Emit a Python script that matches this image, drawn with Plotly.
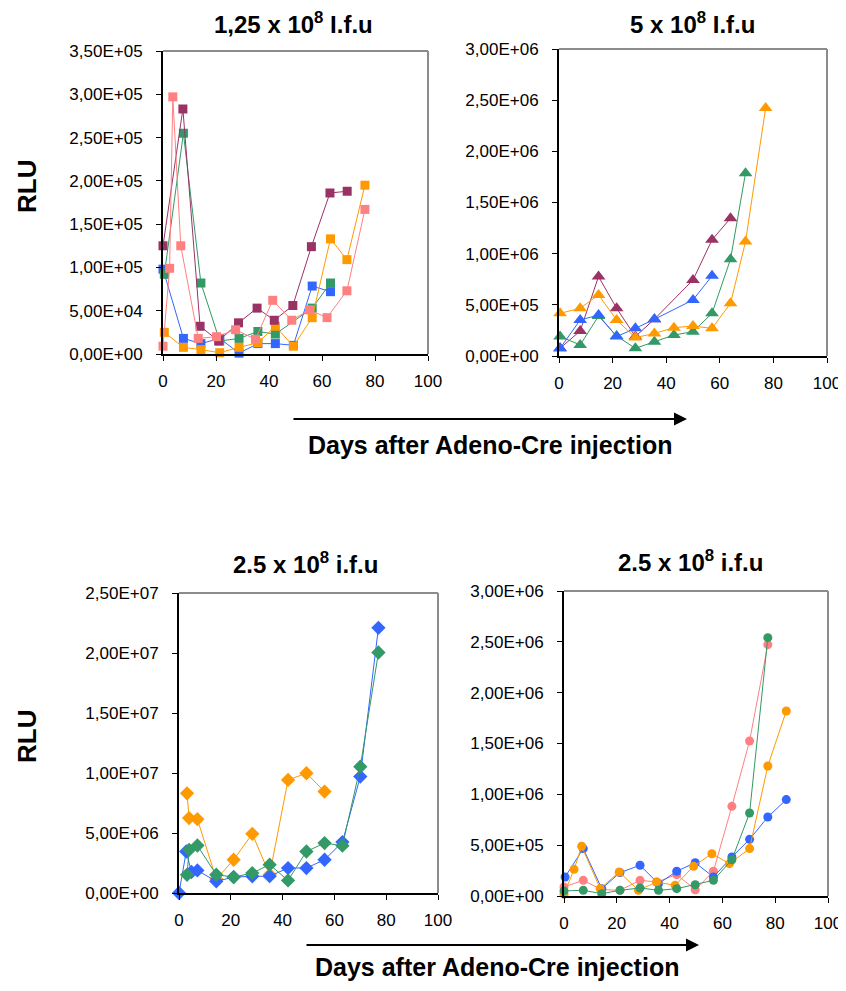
import plotly.graph_objects as go

# ---------------- data ----------------
# Panel 1: 1,25 x 10^8 I.f.u  (squares)
p1_purple_days = [0, 7.5, 14, 21, 28.5, 35.5, 42, 49, 56, 63, 69.5]
p1_purple = [1.25e5, 2.83e5, 3.2e4, 1.5e4, 3.6e4, 5.3e4, 3.9e4, 5.6e4, 1.24e5, 1.86e5, 1.88e5]
p1_green_days = [0.5, 7.7, 14.3, 21.4, 28.7, 35.8, 42.4, 56.3, 63.2]
p1_green = [9.2e4, 2.55e5, 8.2e4, 1.5e4, 1.8e4, 2.6e4, 2.3e4, 5.3e4, 8.2e4]
p1_blue_days = [0, 7.7, 14.3, 21.4, 28.7, 35.8, 42.4, 49.2, 56.3, 63.2]
p1_blue = [9.8e4, 1.8e4, 1.2e4, 1.8e4, 1e3, 1.2e4, 1.2e4, 1.0e4, 7.85e4, 7.2e4]
p1_orange_days = [0.5, 7.7, 14.3, 21.4, 28.7, 35.8, 42.4, 49.2, 56.3, 63.2, 69.4, 76.2]
p1_orange = [2.5e4, 7.7e3, 5e3, 1.5e3, 7.7e3, 1.3e4, 3.2e4, 9e3, 4.2e4, 1.33e5, 1.09e5, 1.95e5]
p1_pink_days = [0, 2.5, 3.7, 6.7, 13.3, 20.2, 27.4, 34.9, 41.4, 48.6, 55.3, 61.9, 69.4, 76.2]
p1_pink = [9e3, 9.9e4, 2.97e5, 1.25e5, 1.8e4, 2e4, 2.8e4, 1.7e4, 6.2e4, 3.9e4, 5.1e4, 4.2e4, 7.3e4, 1.67e5]

# Panel 2: 5 x 10^8 I.f.u  (triangles)
p2_purple_days = [0.4, 7.9, 14.75, 21.5, 28.5, 35.6, 50, 57.1, 64]
p2_purple = [7.5e4, 2.45e5, 7.76e5, 4.66e5, 1.9e5, 3.6e5, 7.43e5, 1.135e6, 1.347e6]
p2_blue_days = [0.4, 7.9, 14.75, 21.5, 28.5, 35.6, 50, 57.1]
p2_blue = [7.5e4, 3.52e5, 4.0e5, 1.9e5, 2.7e5, 3.59e5, 5.48e5, 7.83e5]
p2_green_days = [0.4, 7.9, 14.75, 21.5, 28.5, 35.6, 42.9, 50, 57.1, 64, 69.6]
p2_green = [1.9e5, 1.08e5, 3.9e5, 1.95e5, 7.5e4, 1.4e5, 2.05e5, 2.38e5, 4.17e5, 9.46e5, 1.787e6]
p2_orange_days = [0.4, 7.9, 14.75, 21.5, 28.5, 35.6, 42.9, 50, 57.1, 64, 69.6, 77.1]
p2_orange = [4.17e5, 4.66e5, 5.97e5, 3.52e5, 1.8e5, 2.2e5, 2.77e5, 2.93e5, 2.7e5, 5.15e5, 1.118e6, 2.423e6]

# Panel 3: 2.5 x 10^8 i.f.u  (diamonds)
p3_blue_days = [0, 2.8, 4.8, 7.1, 14.4, 21.1, 28.3, 35, 42.1, 49.2, 56.2, 63.1, 70, 77]
p3_blue = [0, 3.46e6, 1.75e6, 1.88e6, 0.97e6, 1.33e6, 1.39e6, 1.4e6, 2.08e6, 2.08e6, 2.77e6, 4.24e6, 9.7e6, 2.21e7]
p3_green_days = [3.1, 3.9, 7.1, 14.4, 21.1, 28.3, 35, 42.1, 49.2, 56.2, 63.1, 70, 77]
p3_green = [1.52e6, 3.6e6, 3.96e6, 1.52e6, 1.33e6, 1.66e6, 2.36e6, 1.05e6, 3.46e6, 4.16e6, 3.94e6, 1.053e7, 2.004e7]
p3_orange_days = [3.1, 3.9, 7.1, 14.4, 21.1, 28.3, 35, 42.1, 49.2, 56.2]
p3_orange = [8.31e6, 6.24e6, 6.15e6, 1.16e6, 2.77e6, 4.93e6, 1.52e6, 9.42e6, 9.98e6, 8.45e6]

# Panel 4: 2.5 x 10^8 i.f.u  (circles)
p4_pink_days = [0, 7.3, 14.3, 21.2, 28.8, 35.1, 42.7, 49.7, 56.6, 63.6, 70.3, 77.2]
p4_pink = [8.9e4, 1.54e5, 6.2e4, 5.6e4, 1.54e5, 1.38e5, 2.1e5, 6.2e4, 2.43e5, 8.82e5, 1.525e6, 2.472e6]
p4_green_days = [0, 7.3, 14.3, 21.2, 28.8, 35.8, 42.7, 49.7, 56.6, 63.6, 70.3, 77.2]
p4_green = [5e4, 5.6e4, 2.3e4, 5.6e4, 7.9e4, 5.6e4, 7.2e4, 1.11e5, 1.54e5, 3.57e5, 8.16e5, 2.541e6]
p4_blue_days = [0.4, 7.3, 14.3, 21.2, 28.8, 35.8, 42.7, 49.7, 56.6, 63.6, 70.3, 77.2, 84.2]
p4_blue = [1.87e5, 4.66e5, 7.2e4, 2.3e5, 3.02e5, 1.21e5, 2.43e5, 3.28e5, 1.87e5, 3.84e5, 5.57e5, 7.77e5, 9.48e5]
p4_orange_days = [0, 3.8, 6.7, 13.7, 20.9, 28.2, 35.1, 42.1, 49.1, 56, 62.7, 70.3, 77.2, 84.2]
p4_orange = [1.6e4, 2.62e5, 4.89e5, 7.2e4, 2.36e5, 5.6e4, 1.38e5, 1.05e5, 2.92e5, 4.16e5, 3.18e5, 4.66e5, 1.279e6, 1.82e6]

x_ticks = [0, 20, 40, 60, 80, 100]
p1_yticks = [0, 5e4, 1e5, 1.5e5, 2e5, 2.5e5, 3e5, 3.5e5]
p1_yticktext = ["0,00E+00", "5,00E+04", "1,00E+05", "1,50E+05", "2,00E+05", "2,50E+05", "3,00E+05", "3,50E+05"]
p24_yticks = [0, 5e5, 1e6, 1.5e6, 2e6, 2.5e6, 3e6]
p24_yticktext = ["0,00E+00", "5,00E+05", "1,00E+06", "1,50E+06", "2,00E+06", "2,50E+06", "3,00E+06"]
p3_yticks = [0, 5e6, 1e7, 1.5e7, 2e7, 2.5e7]
p3_yticktext = ["0,00E+00", "5,00E+06", "1,00E+07", "1,50E+07", "2,00E+07", "2,50E+07"]

titles = ["1,25 x 10<sup>8</sup> I.f.u", "5 x 10<sup>8</sup> I.f.u",
          "2.5 x 10<sup>8</sup> i.f.u", "2.5 x 10<sup>8</sup> i.f.u"]

# ---------------- style ----------------
PURPLE = "#993366"
GREEN = "#339966"
BLUE = "#3366FF"
ORANGE = "#FF9900"
PINK = "#FF8080"
FONT = "Liberation Sans, Arial, sans-serif"

PAGE_W, PAGE_H = 846, 991
OFF = 8  # default body margin of the page
W, H = PAGE_W - 2 * OFF, PAGE_H - 2 * OFF

def px_x(p):
    return (p - OFF) / W
def px_y(p):
    return 1 - (p - OFF) / H

fig = go.Figure()

def add(xs, ys, color, symbol, size, n):
    fig.add_trace(go.Scatter(
        x=xs, y=ys, mode="lines+markers",
        line=dict(color=color, width=1),
        marker=dict(color=color, symbol=symbol, size=size, line=dict(width=0)),
        xaxis="x" if n == 1 else f"x{n}", yaxis="y" if n == 1 else f"y{n}",
        cliponaxis=False, showlegend=False, hoverinfo="x+y"))

add(p1_blue_days, p1_blue, BLUE, "square", 9, 1)
add(p1_green_days, p1_green, GREEN, "square", 9, 1)
add(p1_orange_days, p1_orange, ORANGE, "square", 9, 1)
add(p1_purple_days, p1_purple, PURPLE, "square", 9, 1)
add(p1_pink_days, p1_pink, PINK, "square", 9, 1)

add(p2_purple_days, p2_purple, PURPLE, "triangle-up", 12, 2)
add(p2_green_days, p2_green, GREEN, "triangle-up", 12, 2)
add(p2_blue_days, p2_blue, BLUE, "triangle-up", 12, 2)
add(p2_orange_days, p2_orange, ORANGE, "triangle-up", 12, 2)

add(p3_orange_days, p3_orange, ORANGE, "diamond", 11, 3)
add(p3_blue_days, p3_blue, BLUE, "diamond", 11, 3)
add(p3_green_days, p3_green, GREEN, "diamond", 11, 3)

add(p4_pink_days, p4_pink, PINK, "circle", 9, 4)
add(p4_blue_days, p4_blue, BLUE, "circle", 9, 4)
add(p4_orange_days, p4_orange, ORANGE, "circle", 9, 4)
add(p4_green_days, p4_green, GREEN, "circle", 9, 4)

# panel pixel boxes in page coordinates: (left, right, top, bottom)
boxes = [(163, 428, 51, 354), (559, 827, 49, 356), (179, 438, 593, 893), (564, 828, 591, 896)]
yticks = [(p1_yticks, p1_yticktext, 3.5e5), (p24_yticks, p24_yticktext, 3e6),
          (p3_yticks, p3_yticktext, 2.5e7), (p24_yticks, p24_yticktext, 3e6)]

layout = dict(
    width=W, height=H, margin=dict(l=0, r=0, t=0, b=0, autoexpand=False),
    paper_bgcolor="white", plot_bgcolor="white",
    font=dict(family=FONT, color="black"),
    shapes=[], annotations=[],
)

for i, (l, r, t, b) in enumerate(boxes):
    n = i + 1
    xa = "xaxis" if n == 1 else f"xaxis{n}"
    ya = "yaxis" if n == 1 else f"yaxis{n}"
    tv, tt, ymax = yticks[i]
    layout[xa] = dict(domain=[px_x(l), px_x(r)], range=[0, 100], tickvals=x_ticks,
                      anchor="y" if n == 1 else f"y{n}", automargin=False,
                      showgrid=False, zeroline=False, showline=True, linecolor="black", linewidth=2,
                      ticks="outside", ticklen=5, tickcolor="black", tickwidth=1,
                      ticklabeloverflow="allow",
                      tickfont=dict(size=17, family=FONT), ticklabelstandoff=6)
    layout[ya] = dict(domain=[px_y(b), px_y(t)], range=[0, ymax], tickvals=tv, ticktext=tt,
                      anchor="x" if n == 1 else f"x{n}", automargin=False,
                      showgrid=False, zeroline=False, showline=True, linecolor="black", linewidth=2,
                      ticks="outside", ticklen=5, tickcolor="black", tickwidth=1,
                      ticklabeloverflow="allow",
                      tickfont=dict(size=17, family=FONT), ticklabelstandoff=10)
    # gray top/right frame
    layout["shapes"].append(dict(type="line", xref="paper", yref="paper",
                                 x0=px_x(l), x1=px_x(r), y0=px_y(t), y1=px_y(t),
                                 line=dict(color="#8c8c8c", width=2)))
    layout["shapes"].append(dict(type="line", xref="paper", yref="paper",
                                 x0=px_x(r), x1=px_x(r), y0=px_y(t), y1=px_y(b),
                                 line=dict(color="#8c8c8c", width=2)))

title_pos = [(293, 23), (692, 23), (305, 563), (690, 561)]
for txt, (cx, cy) in zip(titles, title_pos):
    layout["annotations"].append(dict(text=f"<b>{txt}</b>", xref="paper", yref="paper",
                                      x=px_x(cx), y=px_y(cy), showarrow=False,
                                      xanchor="center", yanchor="middle",
                                      font=dict(size=24, family=FONT)))

for cy in (187, 737):
    layout["annotations"].append(dict(text="<b>RLU</b>", xref="paper", yref="paper",
                                      x=px_x(27), y=px_y(cy), showarrow=False, textangle=-90,
                                      xanchor="center", yanchor="middle",
                                      font=dict(size=26, family=FONT)))

for (x0, x1, ay, ty, tx) in [(292, 687, 419, 445, 490), (305, 699, 945, 967, 497)]:
    layout["annotations"].append(dict(text="", xref="paper", yref="paper",
                                      x=px_x(x1), y=px_y(ay), ax=-(x1 - x0), ay=0,
                                      axref="pixel", ayref="pixel",
                                      showarrow=True, arrowhead=2, arrowsize=1.3,
                                      arrowwidth=2, arrowcolor="black"))
    layout["annotations"].append(dict(text="<b>Days after Adeno-Cre injection</b>",
                                      xref="paper", yref="paper", x=px_x(tx), y=px_y(ty),
                                      showarrow=False, xanchor="center", yanchor="middle",
                                      font=dict(size=25, family=FONT)))

fig.update_layout(**layout)
fig.write_html("out.html")
